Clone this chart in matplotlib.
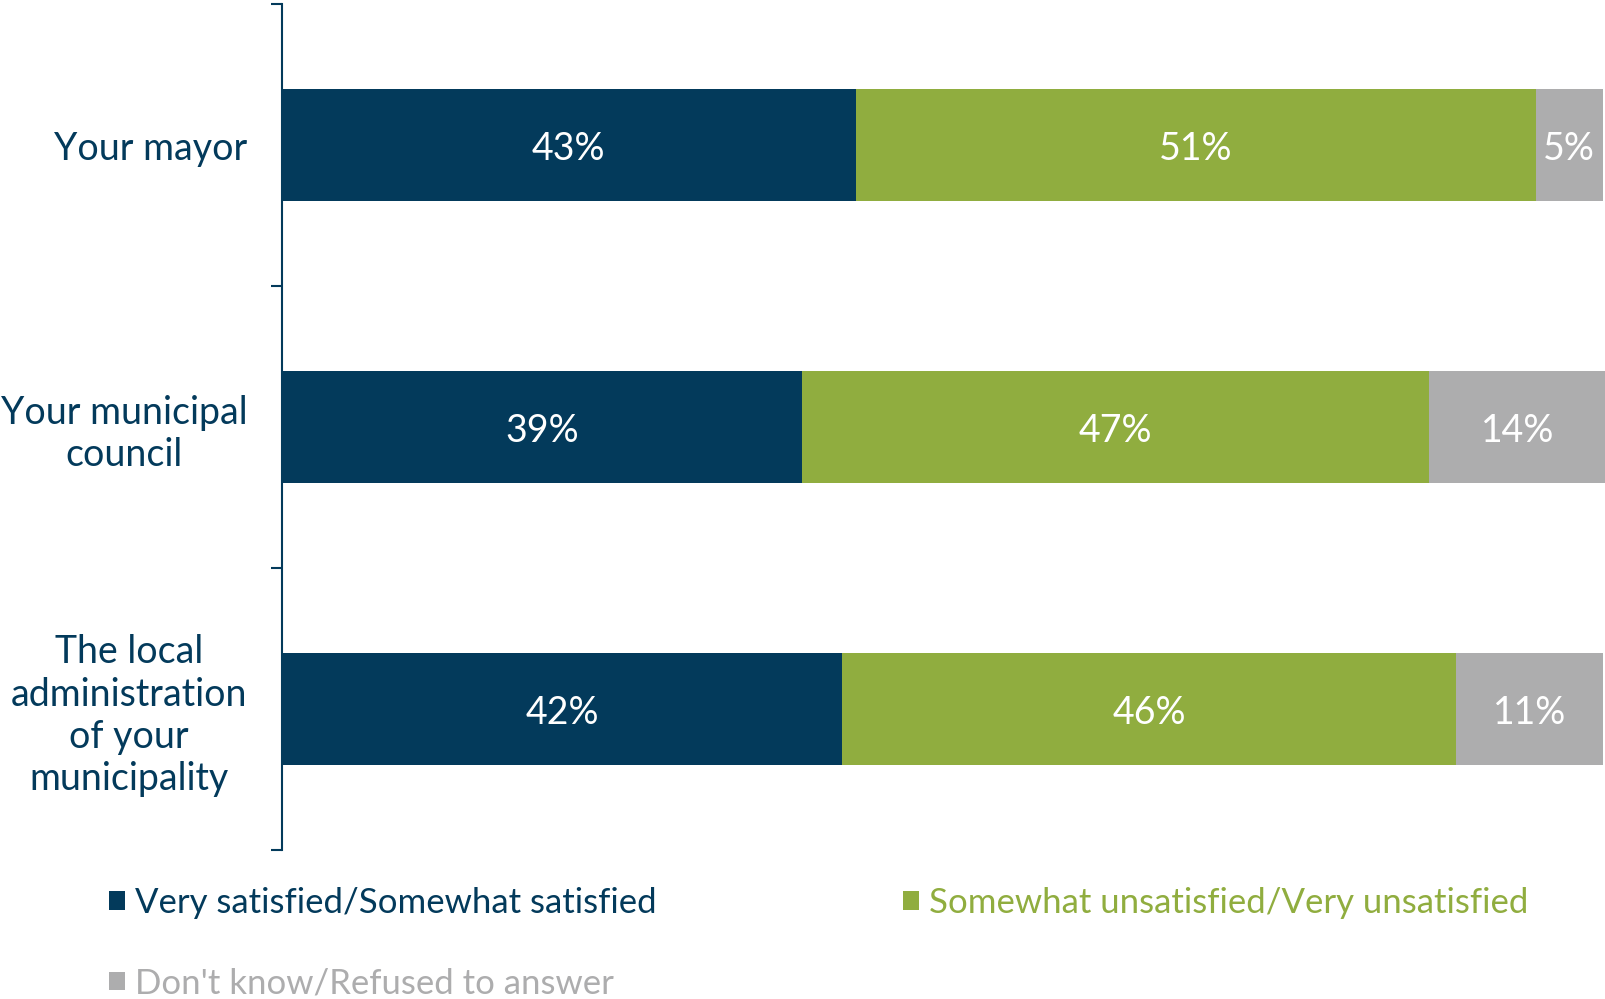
import matplotlib.pyplot as plt
from matplotlib.patches import Patch
import numpy as np

plt.rcParams['font.family'] = ['Lato', 'DejaVu Sans']

categories = ["Your mayor", "Your municipal\ncouncil",
              "The local\nadministration\nof your\nmunicipality"]
series_names = ["Very satisfied/Somewhat satisfied",
                "Somewhat unsatisfied/Very unsatisfied",
                "Don't know/Refused to answer"]
satisfied = [43, 39, 42]
unsatisfied = [51, 47, 46]
dont_know = [5, 14, 11]

NAVY = "#033a5b"
GREEN = "#90ad3f"
GRAY = "#adadae"
colors = [NAVY, GREEN, GRAY]
XMAX = 99.25

fig = plt.figure(figsize=(16.06, 9.99), dpi=100)
ax = fig.add_axes([282 / 1606, 1 - 850 / 999, (1606 - 282) / 1606, 846 / 999])

y = np.arange(len(categories))
left = np.zeros(len(categories))
for vals, col in zip([satisfied, unsatisfied, dont_know], colors):
    vals = np.array(vals, dtype=float)
    ax.barh(y, vals, left=left, height=0.4, color=col, edgecolor="none")
    for i, v in enumerate(vals):
        # center label in the visible part of the segment
        x0, x1 = left[i], min(left[i] + v, XMAX)
        ax.text((x0 + x1) / 2, y[i], f"{int(v)}%", ha="center", va="center_baseline",
                color="white", fontsize=27)
    left += vals

ax.set_xlim(0, XMAX)
ax.set_ylim(2.5, -0.5)
for s in ["top", "right", "bottom"]:
    ax.spines[s].set_visible(False)
ax.spines["left"].set_color(NAVY)
ax.spines["left"].set_linewidth(1.5)
ax.set_xticks([])

ax.set_yticks([-0.5, 0.5, 1.5, 2.5])
ax.set_yticklabels([])
ax.tick_params(axis="y", which="major", length=8, width=1.5, color=NAVY, direction="out")
ax.set_yticks(y, minor=True)
ax.set_yticklabels(categories, minor=True, fontsize=27, color=NAVY,
                   multialignment="center", linespacing=1.22)
ax.tick_params(axis="y", which="minor", length=0, pad=25)

# legend fills column-wise: put "don't know" in the first column's second row
order = [0, 2, 1]
handles = [Patch(facecolor=colors[k], edgecolor="none") for k in order]
leg = fig.legend(handles, [series_names[k] for k in order], loc="upper left",
                 bbox_to_anchor=(95 / 1606, 1 - 873 / 999), ncol=2,
                 frameon=False, fontsize=25, handlelength=0.45, handleheight=0.45,
                 handletextpad=0.3, columnspacing=7.1, labelspacing=1.4,
                 labelcolor=[colors[k] for k in order], borderaxespad=0)

fig.savefig("out.png", dpi=100)
